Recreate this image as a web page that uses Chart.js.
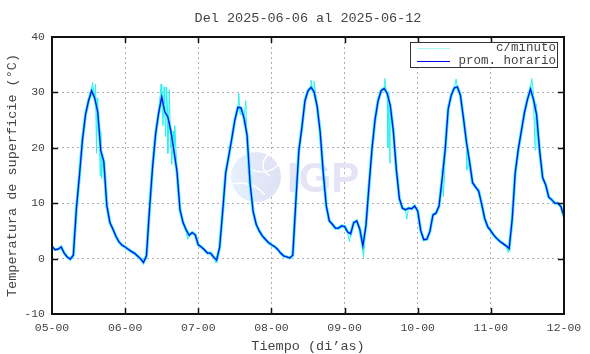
<!DOCTYPE html>
<html>
<head>
<meta charset="utf-8">
<script src="https://cdn.jsdelivr.net/npm/chart.js@4/dist/chart.umd.min.js"></script>
<style>
  html, body { margin: 0; padding: 0; background: #fff; }
  #wrap { width: 590px; height: 354px; position: relative; }
</style>
</head>
<body>
<div id="wrap"><canvas id="temp-chart" width="590" height="354"></canvas></div>
<script>
// hourly means, one array per day (hours 00..23)
var day05 = [2.2,1.6,1.7,2.1,1.0,0.3,-0.1,0.6,9,15,21.5,26,28.5,30.3,29,26.5,19.5,17.5,9.5,6.5,5.3,4.0,3.0,2.4];
var day06 = [2.1,1.7,1.3,1.0,0.5,0.0,-0.7,0.5,9,16.5,22.5,26.3,29.2,26.5,25.6,23,19.5,15.8,8.8,6.5,5.2,4.2,4.7,4.3];
var day07 = [2.5,2.1,1.6,1.0,1.0,0.3,-0.3,2.0,8.5,15.5,18.5,21.7,25,27.3,27.2,25.4,22.3,13.5,8.5,6.2,5.0,4.1,3.5,2.9];
var day08 = [2.5,2.2,1.7,1.0,0.5,0.3,0.1,0.6,10.2,19.5,23.7,28.5,30.3,30.9,30.1,27.5,22.8,15.5,9.5,6.8,6.2,5.5,5.5,5.9];
var day09 = [5.8,4.8,4.5,6.5,6.8,5.3,2.3,5.9,13,19.8,25.1,28.5,30.3,30.7,29.8,27.6,23,16,10.8,9.1,8.8,9.1,9.0,9.5];
var day10 = [8.6,5.0,3.4,3.5,4.9,7.9,8.2,9.5,14.3,19.6,27,29.5,30.8,31.0,29.5,25.4,21,17.5,13.7,12.9,12.2,9.8,7.2,5.7];
var day11 = [5.0,4.2,3.6,3.1,2.7,2.3,1.8,7.1,15.5,19.7,23,26.3,28.7,30.6,28.7,26.0,19.5,14.6,13.3,11.1,10.6,10,10,9.4];
var lastHour = [7.6];

// minute readings that stray from the hourly mean: [hour, value]
var minuteSpikes = [
  [13.3,31.8],[13.7,30.2],[14.3,31.5],[14.6,19],[14.9,29],[15.5,24],[15.8,15],[16.0,23],[16.3,14.5],[16.6,19],
  [35.8,31.5],[36.4,24],[36.8,31],[37.3,22],[37.6,31],[38.0,19],[38.5,30.5],[38.9,20],[39.3,17],[39.8,23],[40.3,24],
  [44.5,3.5],[53.8,-0.8],[61.3,29.8],[61.7,26],[63.6,28.5],[63.9,22],
  [85.0,32.2],[85.5,30.5],[86.0,32],[97.6,3.0],[102.2,0.2],
  [109.2,32.5],[109.6,30.5],[110.2,20],[110.5,30],[110.9,17.2],[116.4,7.1],
  [128.0,16],[128.4,11.2],[128.8,15],[132.6,32.4],[133.2,31],[136.1,16],
  [149.7,1.1],[157.4,32.5],[157.8,31],[158.5,19.6],[158.8,28]
];

var firstDay = 5;
var yTicks = [-10, 0, 10, 20, 30, 40];

var hourly = [].concat(day05, day06, day07, day08, day09, day10, day11, lastHour);
var hourlyPts = hourly.map(function (v, i) { return {x: i, y: v}; });
var minutePts = hourlyPts.concat(minuteSpikes.map(function (p) { return {x: p[0], y: p[1]}; }))
  .sort(function (a, b) { return a.x - b.x; });

var FONT = '"Liberation Mono", "DejaVu Sans Mono", monospace';
var TXT = '#444';
var CYAN = '#2af0f0';

function pad2(n) { return (n < 10 ? '0' : '') + n; }

// watermark, frame, titles, legend
var decor = {
  id: 'decor',
  beforeDatasetsDraw: function (chart) {
    var c = chart.ctx;
    c.save();
    c.beginPath();
    c.arc(256, 177, 25, 0, Math.PI * 2);
    var g = c.createLinearGradient(231, 177, 281, 177);
    g.addColorStop(0, '#e6f0fc');
    g.addColorStop(1, '#e0e0f4');
    c.fillStyle = g;
    c.fill();
    c.strokeStyle = '#ffffff';
    c.lineWidth = 1.5;
    c.beginPath(); c.arc(262, 150, 22, 0.6, 2.2); c.stroke();
    c.beginPath(); c.arc(240, 215, 32, 4.3, 5.6); c.stroke();
    c.beginPath(); c.arc(275, 165, 12, 2.0, 4.6); c.stroke();
    c.fillStyle = '#e4e4f5';
    c.font = 'bold 42px "Liberation Sans", Arial, sans-serif';
    c.textBaseline = 'alphabetic';
    c.fillText('IGP', 287, 192);
    c.restore();
  },
  afterDraw: function (chart) {
    var c = chart.ctx, a = chart.chartArea;
    var xs = chart.scales.x, ys = chart.scales.y;
    c.save();
    c.strokeStyle = '#111';
    c.lineWidth = 2;
    c.strokeRect(a.left, a.top, a.right - a.left, a.bottom - a.top);
    c.lineWidth = 1.5;
    c.beginPath();
    xs.ticks.forEach(function (t) {
      var px = Math.round(xs.getPixelForValue(t.value)) + 0.5;
      if (px <= a.left + 2 || px >= a.right - 2) return;
      c.moveTo(px, a.bottom); c.lineTo(px, a.bottom - 6);
      c.moveTo(px, a.top); c.lineTo(px, a.top + 6);
    });
    ys.ticks.forEach(function (t) {
      var py = Math.round(ys.getPixelForValue(t.value)) + 0.5;
      if (py <= a.top + 2 || py >= a.bottom - 2) return;
      c.moveTo(a.left, py); c.lineTo(a.left + 6, py);
      c.moveTo(a.right, py); c.lineTo(a.right - 6, py);
    });
    c.stroke();

    // titles
    c.fillStyle = TXT;
    c.font = '13.5px ' + FONT;
    c.textAlign = 'center';
    c.textBaseline = 'middle';
    c.fillText('Del 2025-06-06 al 2025-06-12', (a.left + a.right) / 2, 18);
    c.fillText('Tiempo (di\u2019as)', (a.left + a.right) / 2, 346);
    c.save();
    c.translate(12, (a.top + a.bottom) / 2);
    c.rotate(-Math.PI / 2);
    c.fillText('Temperatura de superficie (\u00b0C)', 0, 0);
    c.restore();

    // legend
    c.fillStyle = '#fff';
    c.fillRect(410, 42, 147, 25);
    c.strokeStyle = '#333';
    c.lineWidth = 1;
    c.strokeRect(410.5, 42.5, 147, 25);
    c.lineWidth = 1.2;
    c.strokeStyle = '#aaf6f6';
    c.beginPath(); c.moveTo(417, 48.5); c.lineTo(450, 48.5); c.stroke();
    c.strokeStyle = '#0000ee';
    c.beginPath(); c.moveTo(417, 61.5); c.lineTo(450, 61.5); c.stroke();
    c.fillStyle = TXT;
    c.font = '12.5px ' + FONT;
    c.textAlign = 'right';
    c.fillText('c/minuto', 556, 48);
    c.fillText('prom. horario', 556, 61);
    c.restore();
  }
};

var ctx = document.getElementById('temp-chart').getContext('2d');
var chart = new Chart(ctx, {
  type: 'line',
  data: {
    datasets: [
      {
        label: 'prom. horario',
        data: hourlyPts,
        borderColor: '#0a0aee',
        borderWidth: 1.3,
        pointRadius: 0,
        tension: 0,
        order: 1
      },
      {
        label: 'c/minuto',
        data: minutePts,
        borderColor: CYAN,
        borderWidth: 1,
        pointRadius: 0,
        tension: 0,
        order: 2
      },
      {
        label: 'c/minuto band',
        data: hourlyPts,
        borderColor: CYAN,
        borderWidth: 3,
        pointRadius: 0,
        tension: 0,
        order: 3
      }
    ]
  },
  plugins: [decor],
  options: {
    responsive: false,
    animation: false,
    layout: { padding: { left: 0, right: 26, top: 37, bottom: 0 } },
    plugins: {
      legend: { display: false },
      title: { display: false },
      tooltip: { enabled: false }
    },
    scales: {
      x: {
        type: 'linear',
        min: 0,
        max: 168,
        afterFit: function (s) { s.height = 40; },
        afterBuildTicks: function (s) {
          s.ticks = [];
          for (var h = 0; h <= 168; h += 24) s.ticks.push({value: h});
        },
        ticks: {
          color: TXT,
          font: { family: FONT, size: 11.5 },
          padding: 7,
          maxRotation: 0,
          callback: function (v) { return pad2(firstDay + v / 24) + '-00'; }
        },
        grid: { color: '#b0b0b0', drawTicks: false, lineWidth: 1 },
        border: { display: false, dash: [2, 3] }
      },
      y: {
        min: -10,
        max: 40,
        afterFit: function (s) { s.width = 52; },
        afterBuildTicks: function (s) {
          s.ticks = yTicks.map(function (v) { return {value: v}; });
        },
        ticks: {
          color: TXT,
          font: { family: FONT, size: 11.5 },
          padding: 7
        },
        grid: { color: '#b0b0b0', drawTicks: false, lineWidth: 1 },
        border: { display: false, dash: [2, 3] }
      }
    }
  }
});
</script>
</body>
</html>
